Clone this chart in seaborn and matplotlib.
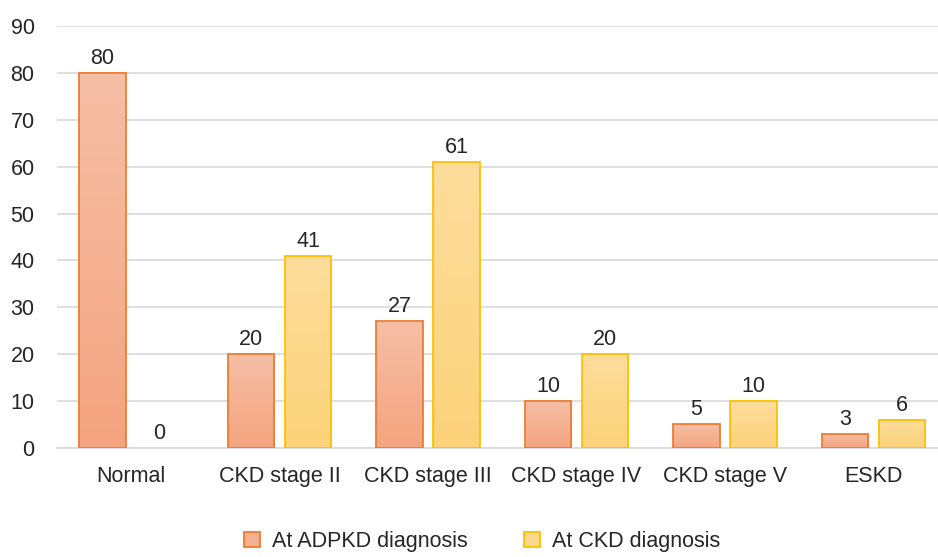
import matplotlib
matplotlib.use("Agg")
import matplotlib.pyplot as plt
import matplotlib.colors as mcolors
from matplotlib.patches import Patch
import numpy as np
import pandas as pd
import seaborn as sns

categories = ["Normal", "CKD stage II", "CKD stage III", "CKD stage IV", "CKD stage V", "ESKD"]
at_adpkd = [80, 20, 27, 10, 5, 3]
at_ckd = [0, 41, 61, 20, 10, 6]
series_names = ["At ADPKD diagnosis", "At CKD diagnosis"]
y_ticks = [0, 10, 20, 30, 40, 50, 60, 70, 80, 90]

df = pd.DataFrame({
    "category": categories * 2,
    "value": at_adpkd + at_ckd,
    "series": [series_names[0]] * len(categories) + [series_names[1]] * len(categories),
})

edge_colors = {series_names[0]: "#ED7D31", series_names[1]: "#FFC000"}
grad_colors = {series_names[0]: ("#F6BFA6", "#F4A47F"),
               series_names[1]: ("#FDDD9C", "#FCD37A")}
flat_colors = {series_names[0]: "#F5B090", series_names[1]: "#FCD88A"}

FS = 15.5
TEXT = "#262626"

sns.set_theme(style="white")
plt.rcParams["font.family"] = ["Liberation Sans", "DejaVu Sans"]

fig = plt.figure(figsize=(9.38, 5.57), dpi=100)
# plot area runs slightly past the right edge of the canvas
ax = fig.add_axes([0.0605, 0.196, 0.95, 0.757])

sns.barplot(data=df, x="category", y="value", hue="series", order=categories,
            hue_order=series_names, palette=flat_colors, width=0.768, gap=0.19,
            ax=ax, legend=False, zorder=3)

ax.set_ylim(0, 90)
ax.set_xlim(-0.5, len(categories) - 0.5)
ax.set_yticks(y_ticks)
ax.yaxis.grid(True, color="#D9D9D9", linewidth=1.2, zorder=0)
ax.set_axisbelow(True)
for side in ["top", "right", "left"]:
    ax.spines[side].set_visible(False)
ax.spines["bottom"].set_color("#D9D9D9")
ax.spines["bottom"].set_linewidth(1.2)
ax.tick_params(axis="both", length=0, labelsize=FS, colors=TEXT)
ax.tick_params(axis="x", pad=13)
ax.tick_params(axis="y", pad=16)
ax.set_xlabel("")
ax.set_ylabel("")

# Gradient fill and outline for each bar, plus value labels
n = len(categories)
for i, patch in enumerate(ax.patches[: 2 * n]):
    s = series_names[i // n]
    top_c, bot_c = grad_colors[s]
    x0, y0 = patch.get_x(), patch.get_y()
    w, h = patch.get_width(), patch.get_height()
    if h > 0:
        cmap = mcolors.LinearSegmentedColormap.from_list("g", [bot_c, top_c])
        grad = np.linspace(0, 1, 256).reshape(-1, 1)
        im = ax.imshow(grad, extent=(x0, x0 + w, y0, y0 + h), origin="lower",
                       cmap=cmap, aspect="auto", zorder=3)
        im.set_clip_path(patch)
        patch.set_facecolor("none")
        patch.set_edgecolor(edge_colors[s])
        patch.set_linewidth(1.3)
        patch.set_zorder(4)
    else:
        patch.set_visible(False)
    vals = at_adpkd if i < n else at_ckd
    ax.text(x0 + w / 2, h + 0.9, f"{vals[i % n]}", ha="center", va="bottom",
            fontsize=FS, color=TEXT, zorder=5)

ax.set_xlim(-0.5, len(categories) - 0.5)
ax.set_ylim(0, 90)

handles = [Patch(facecolor=flat_colors[s], edgecolor=edge_colors[s], linewidth=1.3)
           for s in series_names]
fig.legend(handles, series_names, loc="lower center", ncol=2, frameon=False,
           bbox_to_anchor=(0.514, -0.026), fontsize=FS, handlelength=0.75,
           handleheight=0.75, columnspacing=2.6, handletextpad=0.55,
           labelcolor=TEXT)

fig.savefig("out.png", dpi=100)
